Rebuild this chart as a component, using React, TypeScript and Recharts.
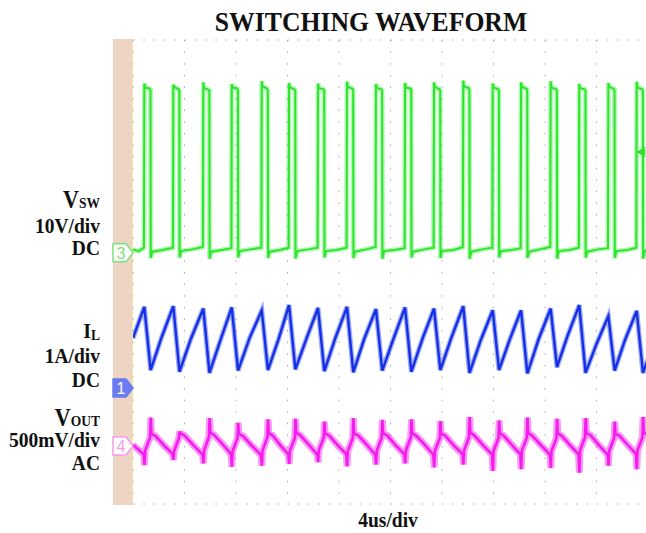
import React from 'react';
import { LineChart, Line, XAxis, YAxis, CartesianGrid, ReferenceLine, ReferenceDot } from 'recharts';

// 10 horizontal divisions of 4 us, 8 vertical divisions
const timeTicks = [0, 4, 8, 12, 16, 20, 24, 28, 32, 36, 40];
const divTicks = [-4, -3, -2, -1, 0, 1, 2, 3, 4];

// channel 3, switch node [us, V]
const vswPoints: [number, number][] = [
  [0, 0.6], [0.45, 0.3],
  [0.85, 0.9], [0.88, 29.2], [0.95, 28.5], [1.3, 28.3], [1.36, 28.1], [1.38, -0.9], [1.5, 0.2], [2.3, 0.5], [3.1, 0.9],
  [3.13, 29.0], [3.2, 28.6], [3.55, 28.2], [3.6, 28.0], [3.62, -0.8], [3.75, 0.3], [4.6, 0.6], [5.43, 1.0],
  [5.46, 29.4], [5.53, 28.4], [5.88, 28.1], [5.93, 28.0], [5.95, -1.0], [6.07, 0.2], [6.9, 0.5], [7.64, 0.8],
  [7.67, 29.1], [7.74, 28.5], [8.1, 28.3], [8.15, 28.1], [8.17, -0.8], [8.3, 0.3], [9.1, 0.6], [9.97, 0.9],
  [10.0, 29.6], [10.07, 28.7], [10.42, 28.3], [10.47, 28.0], [10.49, -0.9], [10.62, 0.2], [11.4, 0.5], [12.09, 0.9],
  [12.12, 29.3], [12.19, 28.5], [12.55, 28.2], [12.6, 28.0], [12.62, -1.0], [12.75, 0.3], [13.6, 0.6], [14.34, 0.9],
  [14.37, 29.2], [14.44, 28.4], [14.8, 28.2], [14.85, 28.0], [14.87, -0.8], [15.0, 0.3], [15.8, 0.5], [16.59, 0.9],
  [16.62, 29.5], [16.69, 28.6], [17.05, 28.3], [17.1, 28.1], [17.12, -0.9], [17.25, 0.2], [18.1, 0.6], [18.84, 1.0],
  [18.87, 29.1], [18.94, 28.4], [19.3, 28.2], [19.35, 28.0], [19.37, -1.0], [19.5, 0.3], [20.3, 0.5], [21.1, 0.8],
  [21.13, 29.3], [21.2, 28.5], [21.56, 28.3], [21.61, 28.1], [21.63, -0.8], [21.76, 0.2], [22.6, 0.6], [23.35, 0.9],
  [23.38, 29.4], [23.45, 28.6], [23.81, 28.2], [23.86, 28.0], [23.88, -0.9], [24.0, 0.3], [24.9, 0.5], [25.62, 1.0],
  [25.65, 29.7], [25.72, 28.7], [26.08, 28.4], [26.13, 28.1], [26.15, -1.0], [26.28, 0.2], [27.1, 0.6], [27.91, 0.9],
  [27.94, 29.2], [28.01, 28.5], [28.37, 28.2], [28.42, 28.0], [28.44, -0.8], [28.57, 0.3], [29.4, 0.5], [30.11, 0.8],
  [30.14, 29.4], [30.21, 28.6], [30.57, 28.3], [30.62, 28.1], [30.64, -0.9], [30.77, 0.2], [31.6, 0.6], [32.41, 1.0],
  [32.44, 29.6], [32.51, 28.5], [32.87, 28.2], [32.92, 28.0], [32.94, -1.0], [33.07, 0.3], [33.9, 0.5], [34.63, 0.9],
  [34.66, 29.1], [34.73, 28.4], [35.09, 28.2], [35.14, 28.0], [35.16, -0.8], [35.29, 0.2], [36.1, 0.6], [36.89, 0.8],
  [36.92, 29.3], [36.99, 28.6], [37.35, 28.3], [37.4, 28.1], [37.42, -0.9], [37.55, 0.3], [38.4, 0.5], [39.09, 0.9],
  [39.12, 29.5], [39.19, 28.5], [39.55, 28.2], [39.6, 28.0], [39.62, -1.0], [39.75, 0.3], [40.0, 0.5],
];

// channel 1, inductor current [us, A]
const ilPoints: [number, number][] = [
  [0, 0.86], [0.88, 1.4], [1.37, 0.31], [2.2, 0.86], [3.13, 1.41], [3.61, 0.28], [4.5, 0.85],
  [5.46, 1.37], [5.94, 0.26], [6.8, 0.83], [7.67, 1.39], [8.16, 0.3], [9.05, 0.86], [10.0, 1.34],
  [10.48, 0.31], [11.3, 0.84], [12.12, 1.43], [12.61, 0.32], [13.5, 0.87], [14.37, 1.38], [14.86, 0.29],
  [15.7, 0.85], [16.62, 1.4], [17.11, 0.27], [17.95, 0.84], [18.87, 1.36], [19.36, 0.3], [20.2, 0.83],
  [21.13, 1.39], [21.62, 0.28], [22.5, 0.86], [23.38, 1.37], [23.87, 0.31], [24.7, 0.85], [25.65, 1.41],
  [26.14, 0.26], [27.0, 0.82], [27.94, 1.34], [28.43, 0.31], [29.25, 0.83], [30.14, 1.34], [30.63, 0.25],
  [31.5, 0.84], [32.44, 1.37], [32.93, 0.36], [33.75, 0.9], [34.66, 1.43], [35.15, 0.26], [36.0, 0.76],
  [36.92, 1.24], [37.41, 0.3], [38.2, 0.82], [39.12, 1.33], [39.61, 0.26], [40.0, 0.5],
];

// channel 4, output ripple [us, mV]
const voutPoints: [number, number][] = [
  [0, 10], [0.45, -35],
  [0.83, -72], [0.89, -165], [0.94, -40], [1.33, 75], [1.38, 245], [1.43, 105], [1.75, 85], [2.45, 0],
  [3.08, -70], [3.14, -120], [3.19, -45], [3.57, 70], [3.62, 125], [3.67, 110], [4.0, 90], [4.7, 5],
  [5.41, -75], [5.47, -150], [5.52, -40], [5.9, 80], [5.95, 240], [6.0, 115], [6.3, 95], [7.0, 10],
  [7.62, -70], [7.68, -180], [7.73, -45], [8.12, 70], [8.17, 200], [8.22, 105], [8.55, 85], [9.25, 0],
  [9.95, -78], [10.01, -170], [10.06, -40], [10.44, 75], [10.49, 230], [10.54, 110], [10.85, 90], [11.45, 5],
  [12.07, -72], [12.13, -155], [12.18, -45], [12.57, 70], [12.62, 235], [12.67, 115], [13.0, 92], [13.7, 5],
  [14.32, -75], [14.38, -140], [14.43, -40], [14.82, 75], [14.87, 210], [14.92, 110], [15.25, 88], [15.95, 0],
  [16.57, -70], [16.63, -175], [16.68, -45], [17.07, 70], [17.12, 240], [17.17, 108], [17.5, 90], [18.2, 5],
  [18.82, -76], [18.88, -160], [18.93, -42], [19.32, 72], [19.37, 225], [19.42, 112], [19.75, 90], [20.45, 0],
  [21.08, -72], [21.14, -150], [21.19, -40], [21.58, 75], [21.63, 230], [21.68, 110], [22.0, 88], [22.7, 5],
  [23.33, -75], [23.39, -185], [23.44, -45], [23.83, 70], [23.88, 215], [23.93, 105], [24.25, 90], [24.95, 0],
  [25.6, -70], [25.66, -160], [25.71, -40], [26.1, 78], [26.15, 250], [26.2, 115], [26.5, 92], [27.2, 5],
  [27.89, -74], [27.95, -215], [28.0, -45], [28.39, 70], [28.44, 220], [28.49, 110], [28.8, 88], [29.5, 0],
  [30.09, -72], [30.15, -200], [30.2, -40], [30.59, 72], [30.64, 245], [30.69, 112], [31.0, 90], [31.7, 5],
  [32.39, -76], [32.45, -190], [32.5, -45], [32.89, 70], [32.94, 235], [32.99, 108], [33.3, 88], [34.0, 0],
  [34.61, -72], [34.67, -230], [34.72, -40], [35.11, 75], [35.16, 240], [35.21, 110], [35.55, 92], [36.2, 5],
  [36.87, -75], [36.93, -170], [36.98, -45], [37.37, 70], [37.42, 210], [37.47, 105], [37.8, 88], [38.5, 0],
  [39.07, -70], [39.13, -200], [39.18, -40], [39.57, 75], [39.62, 250], [39.67, 115], [40.0, 95],
];

const triggerTime = 10; // us
const triggerLevel = 17.4; // V on channel 3

// vertical scale per channel, ground offsets as on the scope screen
const vswDomain = [-43.3, 36.7]; // 10 V/div
const ilDomain = [-2, 6]; // 1 A/div
const voutDomain = [-500, 3500]; // 500 mV/div

const toRows = (pts: [number, number][]) => pts.map(([t, v]) => ({ t, v }));
const vswData = toRows(vswPoints);
const ilData = toRows(ilPoints);
const voutData = toRows(voutPoints);

const serif = "'Liberation Serif', 'Times New Roman', serif";
const GREEN = '#2ee52e';
const BLUE = '#1430e6';
const PINK = '#f41ced';
const GRID = '#a6aab6';

const Badge = ({ cx, cy, label, color, filled }: any) => (
  <g>
    <path
      d={`M${cx - 20},${cy - 9} L${cx - 7},${cy - 9} L${cx},${cy} L${cx - 7},${cy + 9} L${cx - 20},${cy + 9} Z`}
      fill={filled ? color : '#ffffff'}
      stroke={color}
      strokeWidth={1.5}
    />
    <text x={cx - 12} y={cy + 6} textAnchor="middle" fontFamily="'Liberation Sans', Arial, sans-serif" fontSize={16} fill={filled ? '#ffffff' : color}>
      {label}
    </text>
  </g>
);

const TriggerMark = ({ cx, cy }: any) => (
  <g>
    <path d={`M${cx - 5.5},${cy + 1} L${cx + 5.5},${cy + 1} L${cx},${cy + 6} Z`} fill="#2196f3" />
    <path d={`M${cx - 6.5},${cy + 7} H${cx + 6.5} V${cy + 21} L${cx},${cy + 27} L${cx - 6.5},${cy + 21} Z`} fill="#1e88e8" />
    <text x={cx} y={cy + 21} textAnchor="middle" fontFamily="'Liberation Sans', Arial, sans-serif" fontWeight={700} fontSize={13} fill="#ffffff">T</text>
  </g>
);

const LevelMark = ({ cx, cy }: any) => (
  <path d={`M${cx - 12},${cy} L${cx - 3},${cy - 5} L${cx - 3},${cy + 5} Z`} fill={GREEN} />
);

const Label = ({ x, y, anchor = 'end', size = 19.5, children }: any) => (
  <text transform={`translate(${x},${y}) scale(1,1.1)`} textAnchor={anchor} fontFamily={serif} fontWeight={700} fontSize={size} fill="#111">
    {children}
  </text>
);

const App = () => {
  return (
    <div style={{ position: 'relative', width: 646, height: 533, overflow: 'hidden', background: '#fff' }}>
      <style>{'body{margin:0;overflow:hidden}'}</style>
      <div style={{ position: 'absolute', left: 113, top: 39, width: 19, height: 466, background: '#eed5c3', borderRight: '1.5px solid #efe9a6' }} />
      <div style={{ position: 'absolute', left: 0, top: 0 }}>
        <LineChart width={660} height={533} margin={{ top: 40, right: 12, bottom: 29, left: 133 }}>
          <XAxis dataKey="t" type="number" domain={[0, 40]} ticks={timeTicks} hide allowDataOverflow />
          <YAxis type="number" domain={[-4, 4]} ticks={divTicks} hide />
          <YAxis yAxisId="vsw" type="number" domain={vswDomain} hide allowDataOverflow />
          <YAxis yAxisId="il" type="number" domain={ilDomain} hide allowDataOverflow />
          <YAxis yAxisId="vout" type="number" domain={voutDomain} hide allowDataOverflow />

          <CartesianGrid vertical={false} stroke={GRID} strokeDasharray="1.5 8.8" />
          <CartesianGrid horizontal={false} stroke={GRID} strokeDasharray="1.5 10.1" />

          <ReferenceLine y={4} stroke="#c2c4cc" strokeDasharray="1 1.575" />
          <ReferenceLine y={4} stroke="#b4b8c4" strokeWidth={5} strokeDasharray="1 9.3" />
          <ReferenceLine y={-4} stroke="#b4b8c4" strokeWidth={4} strokeDasharray="1 9.3" />
          <ReferenceLine x={0} stroke="#b4b8c4" strokeWidth={4} strokeDasharray="1 10.6" />
          <ReferenceLine y={0} stroke="#aeb2c0" strokeDasharray="1 1.575" />
          <ReferenceLine y={0} stroke="#8d93ac" strokeWidth={7} strokeDasharray="1 9.3" />
          <ReferenceLine x={20} stroke="#aeb2c0" strokeDasharray="1 1.93" />
          <ReferenceLine x={20} stroke="#8d93ac" strokeWidth={7} strokeDasharray="1 10.6" />

          <Line yAxisId="vsw" data={vswData} dataKey="v" type="linear" stroke={GREEN} strokeOpacity={0.35} strokeWidth={5} dot={false} activeDot={false} isAnimationActive={false} />
          <Line yAxisId="vsw" data={vswData} dataKey="v" type="linear" stroke={GREEN} strokeWidth={2} dot={false} activeDot={false} isAnimationActive={false} />
          <Line yAxisId="il" data={ilData} dataKey="v" type="linear" stroke={BLUE} strokeOpacity={0.4} strokeWidth={5} dot={false} activeDot={false} isAnimationActive={false} />
          <Line yAxisId="il" data={ilData} dataKey="v" type="linear" stroke={BLUE} strokeWidth={2.4} dot={false} activeDot={false} isAnimationActive={false} />
          <Line yAxisId="vout" data={voutData} dataKey="v" type="linear" stroke={PINK} strokeOpacity={0.45} strokeWidth={7} dot={false} activeDot={false} isAnimationActive={false} />
          <Line yAxisId="vout" data={voutData} dataKey="v" type="linear" stroke={PINK} strokeWidth={2.6} dot={false} activeDot={false} isAnimationActive={false} />

          <ReferenceDot x={0} y={0} yAxisId="vsw" ifOverflow="visible" shape={(p: any) => <Badge {...p} label="3" color="#7be37b" />} />
          <ReferenceDot x={0} y={0} yAxisId="il" ifOverflow="visible" shape={(p: any) => <Badge {...p} label="1" color="#6a7cef" filled />} />
          <ReferenceDot x={0} y={0} yAxisId="vout" ifOverflow="visible" shape={(p: any) => <Badge {...p} label="4" color="#f59cf0" />} />
          <ReferenceDot x={triggerTime} y={4} ifOverflow="visible" shape={(p: any) => <TriggerMark {...p} />} />
          <ReferenceDot x={40} y={triggerLevel} yAxisId="vsw" ifOverflow="visible" shape={(p: any) => <LevelMark {...p} />} />
        </LineChart>
      </div>
      <svg width={646} height={533} style={{ position: 'absolute', left: 0, top: 0, pointerEvents: 'none' }}>
        <Label x={371} y={31} anchor="middle" size={25.7}>SWITCHING WAVEFORM</Label>

        <Label x={100} y={208}>
          <tspan fontSize={22}>V</tspan>
          <tspan fontSize={13.5}>SW</tspan>
        </Label>
        <Label x={100} y={233}>10V/div</Label>
        <Label x={100} y={255}>DC</Label>

        <Label x={100} y={338}>
          <tspan fontSize={20}>I</tspan>
          <tspan fontSize={13.5} dy={2}>L</tspan>
        </Label>
        <Label x={100} y={363}>1A/div</Label>
        <Label x={100} y={387}>DC</Label>

        <Label x={100} y={426}>
          <tspan fontSize={22}>V</tspan>
          <tspan fontSize={13.5}>OUT</tspan>
        </Label>
        <Label x={100} y={447}>500mV/div</Label>
        <Label x={100} y={470}>AC</Label>

        <Label x={388} y={527} anchor="middle">4us/div</Label>
      </svg>
    </div>
  );
};

export default App;
